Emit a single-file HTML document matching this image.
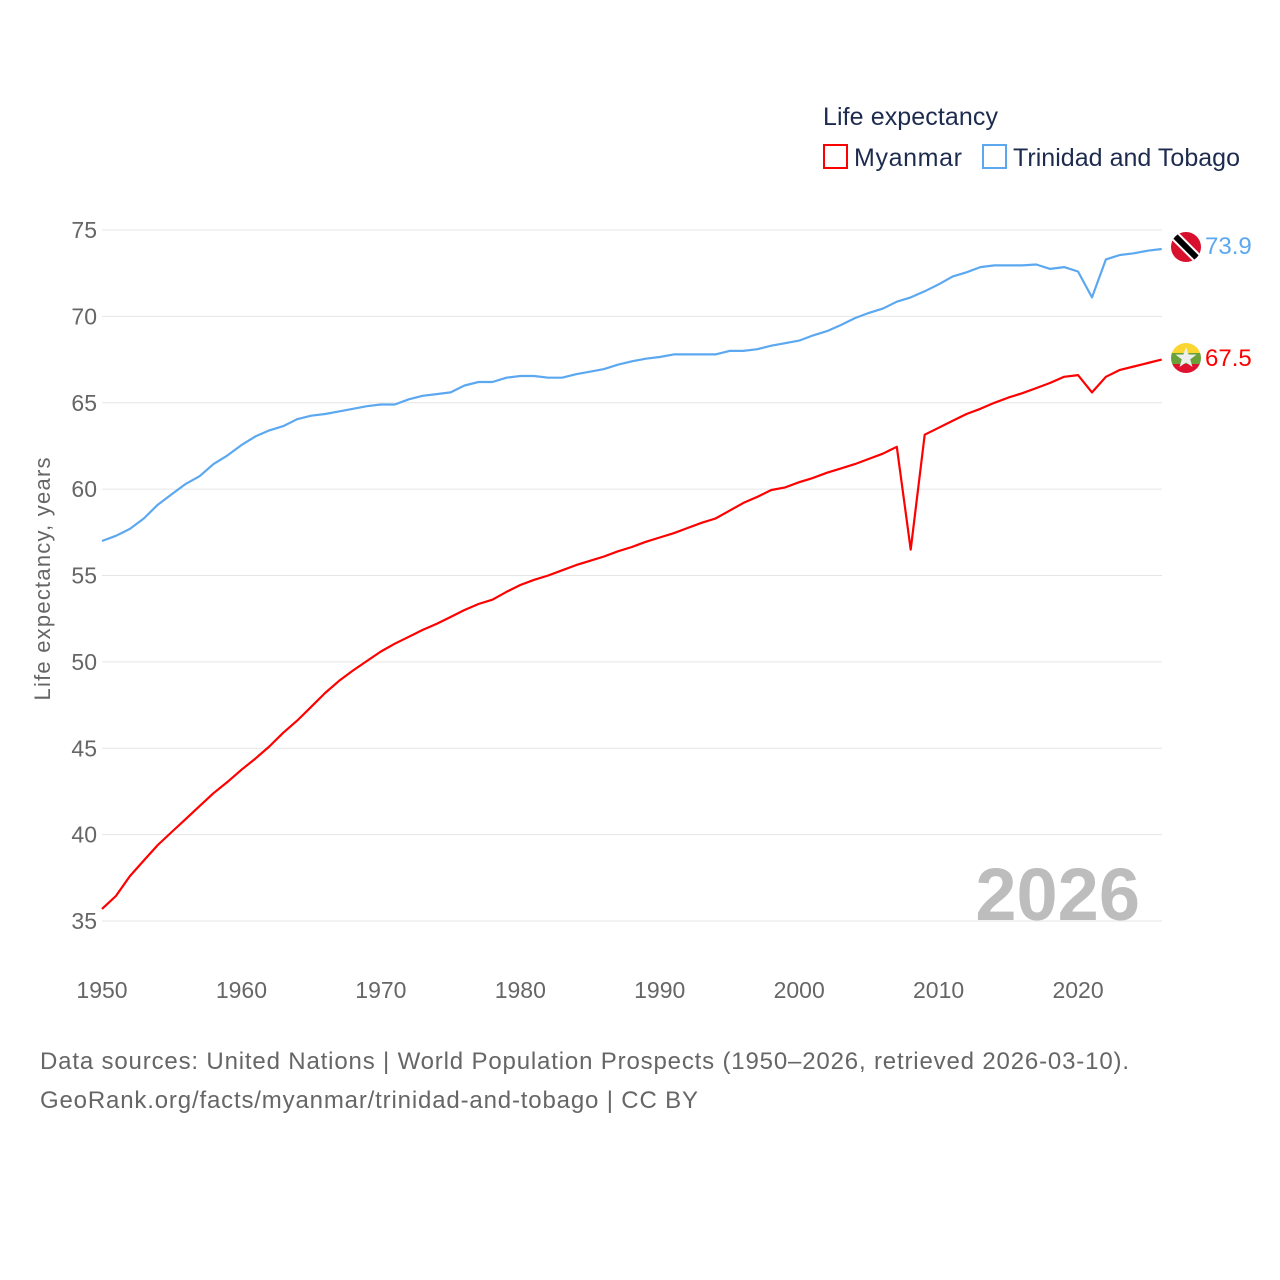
<!DOCTYPE html>
<html><head><meta charset="utf-8">
<style>
body{margin:0;background:#fff;}
svg{display:block;font-family:"Liberation Sans",sans-serif;}
</style></head>
<body>
<svg id="chart" width="1280" height="1280" viewBox="0 0 1280 1280">
  <text x="823" y="125" font-size="25" fill="#1d2b4f" textLength="175">Life expectancy</text>
  <g>
    <rect x="824" y="145" width="23" height="23" fill="none" stroke="#ff0000" stroke-width="2"/>
    <text x="854" y="166" font-size="25" fill="#1d2b4f" textLength="108">Myanmar</text>
  </g>
  <g>
    <rect x="983" y="145" width="23" height="23" fill="none" stroke="#5ca8f0" stroke-width="2"/>
    <text x="1013" y="166" font-size="25" fill="#1d2b4f" textLength="227">Trinidad and Tobago</text>
  </g>
  <g id="grid"></g>
  <g id="yticks"></g>
  <g id="xticks"></g>
  <text transform="translate(50,579) rotate(-90)" text-anchor="middle" font-size="22" fill="#666" textLength="243">Life expectancy, years</text>
  <text x="1140" y="920" text-anchor="end" font-size="74" font-weight="bold" fill="#bdbdbd">2026</text>
  <g id="series"></g>
  <g>
    <clipPath id="c1"><circle cx="1186" cy="247" r="15"/></clipPath>
    <g clip-path="url(#c1)">
      <rect x="1170" y="231" width="32" height="32" fill="#d7102e"/>
      <line x1="1168" y1="229" x2="1204" y2="265" stroke="#fff" stroke-width="10"/>
      <line x1="1168" y1="229" x2="1204" y2="265" stroke="#000" stroke-width="6"/>
    </g>
  </g>
  <g>
    <clipPath id="c2"><circle cx="1186" cy="358" r="15"/></clipPath>
    <g clip-path="url(#c2)">
      <rect x="1170" y="342" width="32" height="11" fill="#fcd630"/>
      <rect x="1170" y="353" width="32" height="11" fill="#6aa23a"/>
      <rect x="1170" y="364" width="32" height="11" fill="#e0122f"/>
      <polygon points="1186,347 1188.6,354.5 1196.5,354.6 1190.2,359.4 1192.5,367 1186,362.5 1179.5,367 1181.8,359.4 1175.5,354.6 1183.4,354.5" fill="#eee"/>
    </g>
  </g>
  <text id="lblT" x="1205" y="254" font-size="24" fill="#5ca8f0">73.9</text>
  <text id="lblM" x="1205" y="366" font-size="24" fill="#ff0000">67.5</text>
  <text x="40" y="1069" font-size="24" fill="#666" textLength="1089">Data sources: United Nations | World Population Prospects (1950–2026, retrieved 2026-03-10).</text>
  <text x="40" y="1108" font-size="24" fill="#666" textLength="658">GeoRank.org/facts/myanmar/trinidad-and-tobago | CC BY</text>
</svg>
<script>
const years = [];
for (let y = 1950; y <= 2026; y++) years.push(y);
const myanmar = [35.7,36.45,37.6,38.5,39.4,40.15,40.9,41.65,42.4,43.05,43.75,44.4,45.1,45.9,46.6,47.4,48.2,48.9,49.5,50.05,50.6,51.05,51.45,51.85,52.2,52.6,53.0,53.35,53.6,54.05,54.45,54.75,55.0,55.3,55.6,55.85,56.1,56.4,56.65,56.95,57.2,57.45,57.75,58.05,58.3,58.75,59.2,59.55,59.95,60.1,60.4,60.65,60.95,61.2,61.45,61.75,62.05,62.45,56.5,63.15,63.55,63.95,64.35,64.65,65.0,65.3,65.55,65.85,66.15,66.5,66.6,65.6,66.5,66.9,67.1,67.3,67.5];
const trinidad = [57.0,57.3,57.7,58.3,59.1,59.7,60.3,60.75,61.45,61.95,62.55,63.05,63.4,63.65,64.05,64.25,64.35,64.5,64.65,64.8,64.9,64.9,65.2,65.4,65.5,65.6,66.0,66.2,66.2,66.45,66.55,66.55,66.45,66.45,66.65,66.8,66.95,67.2,67.4,67.55,67.65,67.8,67.8,67.8,67.8,68.0,68.0,68.1,68.3,68.45,68.6,68.9,69.15,69.5,69.9,70.2,70.45,70.85,71.1,71.45,71.85,72.3,72.55,72.85,72.95,72.95,72.95,73.0,72.75,72.85,72.6,71.1,73.3,73.55,73.65,73.8,73.9];
const yTicks = [35,40,45,50,55,60,65,70,75];
const xTicks = [1950,1960,1970,1980,1990,2000,2010,2020];

const NS = "http://www.w3.org/2000/svg";
const X = v => 102 + (v - 1950) * (1161.7 - 102) / 76;
const Y = v => 921 - (v - 35) * (921 - 230) / 40;
function mk(tag, attrs, parent) {
  const e = document.createElementNS(NS, tag);
  for (const k in attrs) e.setAttribute(k, attrs[k]);
  parent.appendChild(e);
  return e;
}
const grid = document.getElementById('grid'), yt = document.getElementById('yticks'), xt = document.getElementById('xticks'), ser = document.getElementById('series');
yTicks.forEach(t => {
  const l = mk('line', {x1: 102, x2: 1162, y1: Y(t), y2: Y(t), stroke: '#e6e6e6', 'stroke-width': 1}, grid);
  
  
  const tx = mk('text', {x: 97, y: Y(t) + 8, 'text-anchor': 'end', 'font-size': 23, fill: '#666'}, yt);
  tx.textContent = t;
  
  
});
xTicks.forEach(t => {
  const tx = mk('text', {x: X(t), y: 998, 'text-anchor': 'middle', 'font-size': 23, fill: '#666'}, xt);
  tx.textContent = t;
  
  
});
function line(vals, color, name) {
  const d = vals.map((v, i) => (i ? 'L' : 'M') + X(years[i]).toFixed(1) + ',' + Y(v).toFixed(1)).join('');
  const p = mk('path', {d: d, fill: 'none', stroke: color, 'stroke-width': 2.2, 'stroke-linejoin': 'round'}, ser);
  
  
}
line(trinidad, '#5ca8f0', 'trinidad-line');
line(myanmar, '#ff0000', 'myanmar-line');
</script>
</body></html>
